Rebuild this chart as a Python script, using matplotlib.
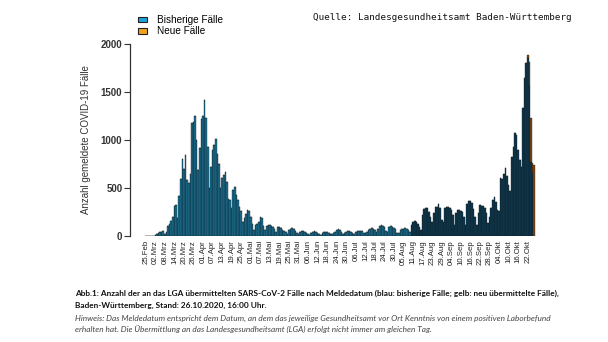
import numpy as np
import matplotlib
matplotlib.use('Agg')
import matplotlib.pyplot as plt
from matplotlib.patches import Patch

# Fallzahlen nach Meldedatum (25.02. - 26.10.2020)
feb = [1, 2, 3, 4, 2]
mar = [1, 8, 20, 30, 38, 45, 50, 25, 40, 100, 130, 160, 200, 310, 320, 185,
       420, 590, 800, 700, 845, 580, 550, 650, 1180, 1190, 1250, 1000, 690, 920, 1220]
apr = [1250, 1417, 1225, 930, 500, 720, 900, 950, 1010, 850, 750, 500, 600, 640, 665,
       560, 390, 380, 290, 480, 510, 430, 380, 300, 260, 150, 190, 230, 275, 260]
mai = [200, 130, 60, 110, 130, 150, 200, 185, 100, 60, 100, 115, 115, 100, 95, 70,
       45, 90, 95, 80, 65, 55, 40, 25, 60, 75, 80, 70, 55, 35, 20]
jun = [40, 50, 55, 45, 30, 25, 15, 35, 45, 55, 45, 30, 22, 12, 30, 40, 45, 40, 35,
       25, 20, 35, 45, 60, 70, 65, 40, 25, 30, 45]
jul = [52, 50, 40, 30, 20, 40, 50, 52, 55, 50, 35, 28, 45, 65, 75, 80, 75, 60, 40,
       70, 100, 115, 100, 95, 50, 45, 90, 100, 90, 80, 70]
aug = [35, 30, 65, 75, 75, 80, 70, 60, 45, 110, 150, 155, 150, 130, 95, 60, 220, 278,
       295, 295, 253, 200, 150, 236, 305, 305, 330, 288, 167, 150, 288]
sep = [305, 300, 288, 270, 220, 115, 236, 270, 270, 265, 253, 200, 115, 330, 364, 364,
       340, 280, 200, 115, 236, 323, 312, 312, 290, 236, 132, 200, 288, 375]
okt = [410, 350, 270, 260, 600, 590, 650, 705, 620, 530, 470, 826, 930, 1069, 1051, 900,
       790, 720, 1330, 1650, 1800, 1850, 1560, 775, 656, 0]
neue_letzte = [40, 250, 450, 100, 740]

tick_labels = ['25.Feb', '02.Mrz', '08.Mrz', '14.Mrz', '20.Mrz', '26.Mrz', '01.Apr',
               '07.Apr', '13.Apr', '19.Apr', '25.Apr', '01.Mai', '07.Mai', '13.Mai',
               '19.Mai', '25.Mai', '31.Mai', '06.Jun', '12.Jun', '18.Jun', '24.Jun',
               '30.Jun', '06.Jul', '12.Jul', '18.Jul', '24.Jul', '30.Jul', '05.Aug',
               '11.Aug', '17.Aug', '23.Aug', '29.Aug', '04.Sep', '10.Sep', '16.Sep',
               '22.Sep', '28.Sep', '04.Okt', '10.Okt', '16.Okt', '22.Okt']

bisherige = np.array(feb + mar + apr + mai + jun + jul + aug + sep + okt)
n = bisherige.size
neue = np.zeros(n)
neue[-len(neue_letzte):] = neue_letzte
x = np.arange(n)

W, H = 608, 342
fig = plt.figure(figsize=(W / 100, H / 100), dpi=100)
ax = fig.add_axes([130 / W, 1 - 236 / H, (536 - 130) / W, (236 - 44) / H])

farbe = ['#1d6f8f' if i < 167 else '#10394d' for i in range(n)]
ax.bar(x, bisherige, width=1.0, color=farbe, edgecolor='#0b1c26', linewidth=0.25)
ax.bar(x, neue, width=1.0, bottom=bisherige, color='#7c4614', edgecolor='#2a1a0a',
       linewidth=0.25)

ax.set_xlim(-9.9, 245.2)
ax.set_ylim(0, 2000)
ax.set_yticks([0, 500, 1000, 1500, 2000])
ax.set_xticks(np.arange(0, n, 6)[:len(tick_labels)])
ax.set_xticklabels(tick_labels, rotation=90, fontsize=5.6, family='Liberation Sans',
                   color='#222222')
ax.tick_params(axis='x', length=0, pad=3)
ax.tick_params(axis='y', length=4, width=0.8, color='#333333', pad=1.5)
for lab in ax.get_yticklabels():
    lab.set_fontsize(7)
    lab.set_fontweight('bold')
    lab.set_family('Liberation Sans')
    lab.set_color('#333333')
for s in ['top', 'right', 'bottom']:
    ax.spines[s].set_visible(False)
ax.spines['left'].set_linewidth(0.9)
ax.spines['left'].set_color('#333333')
ax.set_ylabel('Anzahl gemeldete COVID-19 Fälle', fontsize=7, family='Liberation Sans',
              color='#333333', labelpad=7)

handles = [Patch(facecolor='#1ea3d6', edgecolor='#222222', linewidth=0.8),
           Patch(facecolor='#f0a21a', edgecolor='#222222', linewidth=0.8)]
fig.legend(handles, ['Bisherige Fälle', 'Neue Fälle'], loc='upper left',
           bbox_to_anchor=(129 / W, 1 - 6 / H), frameon=False,
           handlelength=0.9, handleheight=0.5, labelspacing=0.15, handletextpad=1.0,
           prop={'family': 'Liberation Sans', 'size': 7.2})

fig.text(313 / W, 1 - 17 / H, 'Quelle: Landesgesundheitsamt Baden-Württemberg',
         family='DejaVu Sans Mono', fontsize=6.7, va='center', ha='left', color='#111111')

fig.text(75 / W, 1 - 293 / H,
         'Abb.1: Anzahl der an das LGA übermittelten SARS-CoV-2 Fälle nach Meldedatum '
         '(blau: bisherige Fälle; gelb: neu übermittelte Fälle),',
         family='Lato', fontweight='bold', fontsize=5.95, va='center', color='#111111')
fig.text(75 / W, 1 - 305 / H, 'Baden-Württemberg, Stand: 26.10.2020, 16:00 Uhr.',
         family='Lato', fontweight='bold', fontsize=5.95, va='center', color='#111111')
fig.text(75 / W, 1 - 318 / H,
         'Hinweis: Das Meldedatum entspricht dem Datum, an dem das jeweilige Gesundheitsamt '
         'vor Ort Kenntnis von einem positiven Laborbefund',
         family='Lato', style='italic', fontsize=5.95, va='center', color='#444444')
fig.text(75 / W, 1 - 330 / H,
         'erhalten hat. Die Übermittlung an das Landesgesundheitsamt (LGA) erfolgt nicht '
         'immer am gleichen Tag.',
         family='Lato', style='italic', fontsize=5.95, va='center', color='#444444')

fig.savefig('out.png', dpi=100)
